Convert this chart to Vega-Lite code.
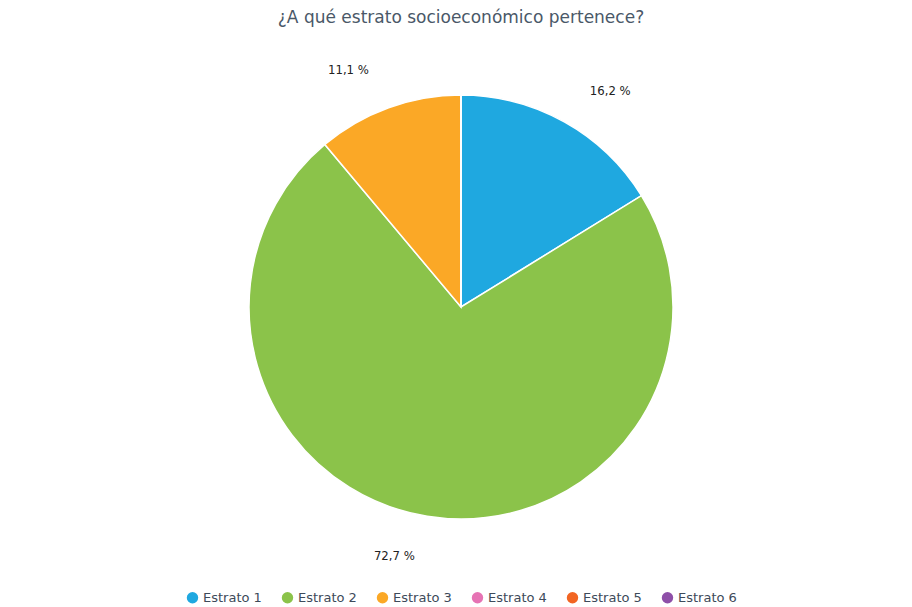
{
  "$schema": "https://vega.github.io/schema/vega-lite/v6.json",
  "width": 912,
  "height": 607,
  "autosize": {"type": "fit", "contains": "padding"},
  "background": "white",
  "padding": {"top": 9, "left": 12, "right": 2, "bottom": 2},
  "title": {
    "text": "¿A qué estrato socioeconómico pertenece?",
    "font": "DejaVu Sans",
    "fontSize": 17,
    "fontWeight": "normal",
    "color": "#4a5868",
    "offset": 6
  },
  "config": {
    "view": {"stroke": null},
    "legend": {"layout": {"bottom": {"anchor": "middle"}}}
  },
  "data": {
    "values": [
      {"estrato": "Estrato 1", "pct": 16.2, "label_der": "16,2 %", "label_izq": "", "orden": 1},
      {"estrato": "Estrato 2", "pct": 72.7, "label_der": "", "label_izq": "72,7 %", "orden": 2},
      {"estrato": "Estrato 3", "pct": 11.1, "label_der": "", "label_izq": "11,1 %", "orden": 3},
      {"estrato": "Estrato 4", "pct": 0, "label_der": "", "label_izq": "", "orden": 4},
      {"estrato": "Estrato 5", "pct": 0, "label_der": "", "label_izq": "", "orden": 5},
      {"estrato": "Estrato 6", "pct": 0, "label_der": "", "label_izq": "", "orden": 6}
    ]
  },
  "encoding": {
    "theta": {"field": "pct", "type": "quantitative", "stack": true},
    "order": {"field": "orden", "type": "quantitative"},
    "color": {
      "field": "estrato",
      "type": "nominal",
      "sort": ["Estrato 1", "Estrato 2", "Estrato 3", "Estrato 4", "Estrato 5", "Estrato 6"],
      "scale": {
        "domain": ["Estrato 1", "Estrato 2", "Estrato 3", "Estrato 4", "Estrato 5", "Estrato 6"],
        "range": ["#1fa8e0", "#8bc34a", "#fba826", "#e673b4", "#f26522", "#8e4fa8"]
      },
      "legend": {
        "title": null,
        "orient": "bottom",
        "direction": "horizontal",
        "symbolType": "circle",
        "symbolSize": 130,
        "symbolStrokeWidth": 0,
        "labelFont": "DejaVu Sans",
        "labelFontSize": 13,
        "labelColor": "#3d4a5a",
        "columnPadding": 19,
        "offset": 10
      }
    }
  },
  "layer": [
    {
      "mark": {"type": "arc", "outerRadius": 212, "stroke": "white", "strokeWidth": 1.5}
    },
    {
      "mark": {"type": "text", "radius": 252, "align": "left", "dx": 6, "dy": 4, "font": "DejaVu Sans Condensed", "fontSize": 13, "fill": "#222222"},
      "encoding": {
        "text": {"field": "label_der", "type": "nominal"},
        "color": {"value": "#222222"}
      }
    },
    {
      "mark": {"type": "text", "radius": 252, "align": "right", "dx": -6, "font": "DejaVu Sans Condensed", "fontSize": 13, "fill": "#222222"},
      "encoding": {
        "text": {"field": "label_izq", "type": "nominal"},
        "color": {"value": "#222222"}
      }
    }
  ]
}
